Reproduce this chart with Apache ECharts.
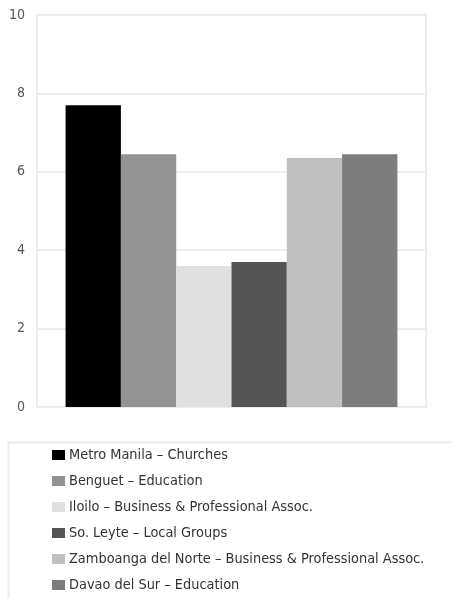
<!DOCTYPE html>
<html>
<head>
<meta charset="utf-8">
<script src="https://cdn.jsdelivr.net/npm/echarts@6/dist/echarts.min.js"></script>
<style>
html,body{margin:0;padding:0;background:#fff;}
#c{width:452px;height:598px;}
</style>
</head>
<body>
<div id="c"></div>
<script>
const seriesNames = [
  "Metro Manila – Churches",
  "Benguet – Education",
  "Iloilo – Business & Professional Assoc.",
  "So. Leyte – Local Groups",
  "Zamboanga del Norte – Business & Professional Assoc.",
  "Davao del Sur – Education"
];
const seriesValues = [7.7, 6.45, 3.6, 3.7, 6.35, 6.45];
const seriesColors = ["#000000", "#939393", "#e0e0e0", "#545454", "#c0c0c0", "#7c7c7c"];
const categories = [""];
const yTicks = [0, 2, 4, 6, 8, 10];

const FONT = "'Liberation Sans Narrow', 'DejaVu Sans Condensed', sans-serif";
const chart = echarts.init(document.getElementById('c'), null, {renderer: 'canvas'});
chart.setOption({
  animation: false,
  backgroundColor: '#ffffff',
  textStyle: {fontFamily: FONT},
  grid: {left: 37, right: 26, top: 15, bottom: 191, show: true, borderColor: '#ececec', borderWidth: 2},
  xAxis: {
    type: 'category', data: categories,
    axisLine: {show: true, lineStyle: {color: '#ececec', width: 2}},
    axisTick: {show: false}, axisLabel: {show: false}
  },
  yAxis: {
    type: 'value', min: yTicks[0], max: yTicks[yTicks.length - 1], interval: 2,
    axisLine: {show: false}, axisTick: {show: false},
    axisLabel: {color: '#555', fontSize: 14, fontFamily: FONT, margin: 12},
    splitLine: {lineStyle: {color: '#ececec', width: 2}}
  },
  legend: {
    orient: 'vertical', left: 47, top: 443,
    itemWidth: 13, itemHeight: 10, itemGap: 12,
    icon: 'rect',
    textStyle: {color: '#333', fontSize: 14.4, lineHeight: 14, fontFamily: FONT, padding: [0, 0, 0, -1]},
    data: seriesNames
  },
  graphic: [{
    type: 'rect', left: 6, top: 440, silent: true,
    shape: {width: 460, height: 180},
    style: {fill: 'none', stroke: '#ececec', lineWidth: 2}
  }],
  series: seriesNames.map((n, i) => ({
    name: n, type: 'bar', data: [seriesValues[i]],
    barWidth: 55.3, barGap: '0%',
    itemStyle: {color: seriesColors[i]}
  }))
});
</script>
</body>
</html>
